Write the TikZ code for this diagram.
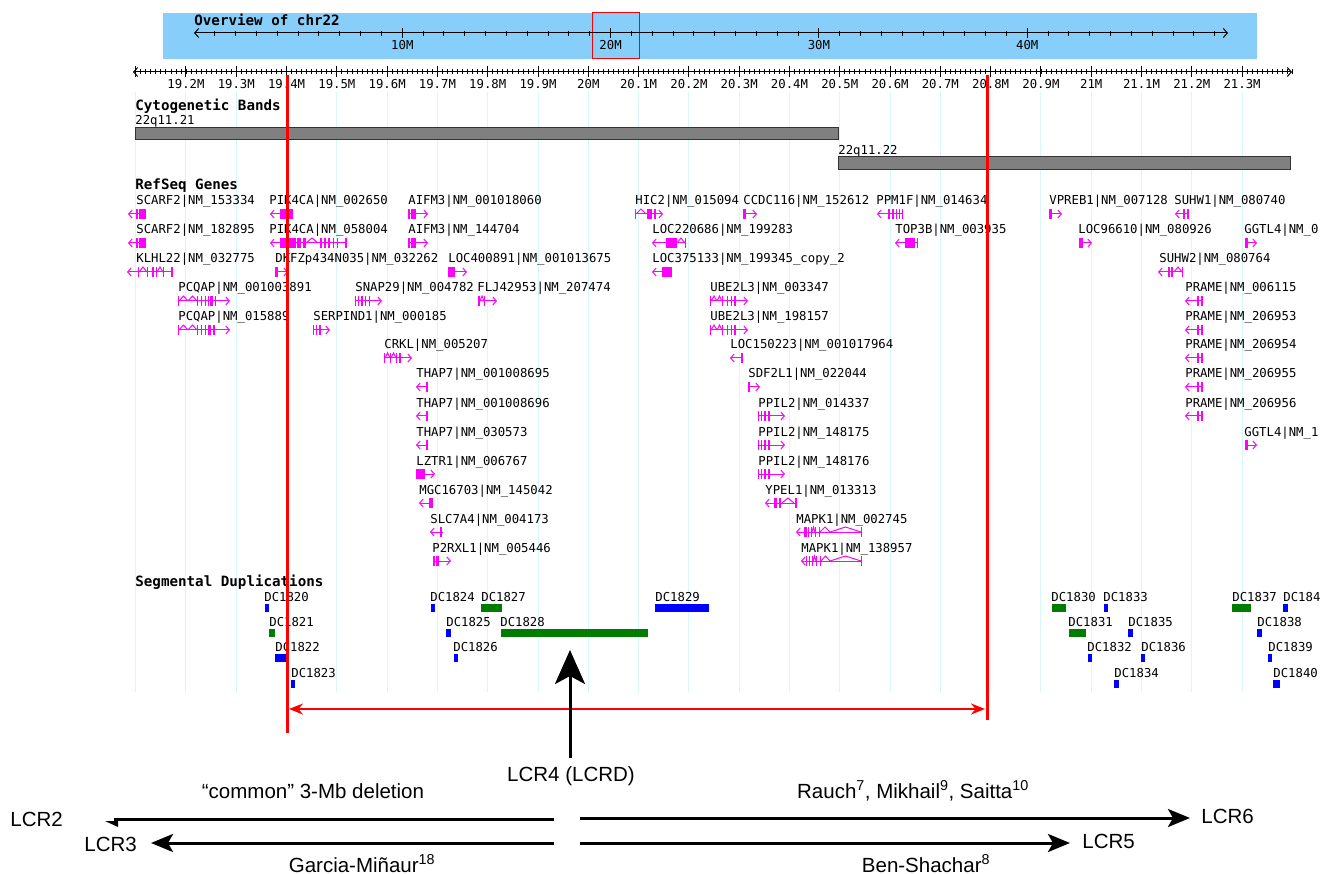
\documentclass[tikz,border=0pt]{standalone}
\usepackage{fontspec}
\setmainfont{Liberation Sans}
\newfontfamily\monofont{DejaVu Sans Mono}
\usetikzlibrary{arrows.meta}

\definecolor{genec}{RGB}{255,0,255}
\definecolor{skyb}{RGB}{135,206,250}
\definecolor{gridc}{RGB}{214,248,250}
\definecolor{dupblue}{RGB}{0,0,255}
\definecolor{dupgreen}{RGB}{0,125,0}
\definecolor{bandgray}{RGB}{128,128,128}
\definecolor{markred}{RGB}{255,0,0}

\tikzset{every picture/.style={line width=0.75pt}}
\tikzset{
  lbl/.style={font=\monofont\fontsize{12.3}{13}\selectfont, anchor=base west, inner sep=0pt},
  ttl/.style={font=\monofont\bfseries\fontsize{14.2}{15}\selectfont, anchor=base west, inner sep=0pt},
  big/.style={font=\fontsize{20.5}{22}\selectfont, anchor=base, inner sep=0pt},
  gline/.style={draw=genec, line width=1pt, -{Straight Barb[length=3.5pt,width=8pt]}},
  band/.style={fill=bandgray, draw=black!80, line width=1pt},
  redl/.style={draw=markred, line width=3pt},
  lcrarrow/.style={line width=3pt, -{Stealth[length=22pt,width=18pt,inset=5pt]}},
  tick/.style={line width=1pt}
}

% gene glyph: y, tail x, head x, exon pairs
\newcommand{\gglyph}[4]{%
  \draw[gline] (#2,#1) -- (#3,#1);
  \foreach \ea/\eb in {#4} {\fill[genec] (\ea,#1-5) rectangle (\eb,#1+5);}
}
% intron chevron: y, from x, to x
\newcommand{\gchev}[3]{\draw[genec, line width=1pt] (#2,#1) -- ({(#2+#3)/2},#1-5) -- (#3,#1);}

\begin{document}
\begin{tikzpicture}[x=1pt,y=1pt,yscale=-1]
  \useasboundingbox (0,0) rectangle (1320,874);
  \fill[white] (0,0) rectangle (1320,874);

  %Grid lines
  \foreach \i in {0,...,22} \draw[gridc, line width=1pt] (135.7+50.29*\i,92) -- (135.7+50.29*\i,692);

  %Overview of chr22
  \fill[skyb] (163,13) rectangle (1257,59);
  \draw[markred, line width=1pt] (592,13) rectangle (639,59);
  \node[ttl] (ovtitle) at (194,26) {Overview of chr22};
  \draw[tick, {Straight Barb[length=4pt,width=9pt]}-{Straight Barb[length=4pt,width=9pt]}] (194,33) -- (1228,33);
  \foreach \m in {1,...,49} \draw[tick] (194+20.83*\m,31) -- ++(0,5);
  \foreach \m in {10,20,30,40} {
    \draw[tick] (194+20.83*\m,28) -- ++(0,10);
    \node[lbl, anchor=base] (ov\m) at (194+20.83*\m,50) {\m M};
  }

  %Ruler
  \draw[tick, {Straight Barb[length=4pt,width=9pt]}-{Straight Barb[length=4pt,width=9pt]}] (133,72) -- (1292,72);
  \foreach \k in {1,...,230} \draw[line width=0.8pt] (135.7+5.029*\k,69.5) -- ++(0,5);
  \foreach \i in {0,...,22} \draw[tick] (135.7+50.29*\i,66) -- ++(0,11);
  \foreach \i/\t in {1/19.2M,2/19.3M,3/19.4M,4/19.5M,5/19.6M,6/19.7M,7/19.8M,8/19.9M,9/20M,10/20.1M,11/20.2M,
    12/20.3M,13/20.4M,14/20.5M,15/20.6M,16/20.7M,17/20.8M,18/20.9M,19/21M,20/21.1M,21/21.2M,22/21.3M}
    \node[lbl, anchor=base] (ru\i) at (135.7+50.29*\i,89) {\t};

  %Cytogenetic bands
  \node[ttl] (cytot) at (135,111) {Cytogenetic Bands};
  \node[lbl] (bandA) at (135,125) {22q11.21};
  \draw[band] (135,128) rectangle (838,140);
  \node[lbl] (bandB) at (838,155) {22q11.22};
  \draw[band] (838,157) rectangle (1290,170);

  %RefSeq genes
  \node[ttl] (genet) at (135,190) {RefSeq Genes};
  \foreach \x/\y/\t [count=\n] in {
    136/201/SCARF2|NM\_153334, 269/201/PIK4CA|NM\_002650, 408/201/AIFM3|NM\_001018060,
    635/201/HIC2|NM\_015094, 743/201/CCDC116|NM\_152612, 876/201/PPM1F|NM\_014634,
    1049/201/VPREB1|NM\_007128, 1174/201/SUHW1|NM\_080740,
    136/230/SCARF2|NM\_182895, 269/230/PIK4CA|NM\_058004, 408/230/AIFM3|NM\_144704,
    652/230/LOC220686|NM\_199283, 895/230/TOP3B|NM\_003935, 1078/230/LOC96610|NM\_080926,
    1244/230/GGTL4|NM\_0,
    136/259/KLHL22|NM\_032775, 275/259/DKFZp434N035|NM\_032262, 448/259/LOC400891|NM\_001013675,
    652/259/LOC375133|NM\_199345\_copy\_2, 1159/259/SUHW2|NM\_080764,
    178/288/PCQAP|NM\_001003891, 355/288/SNAP29|NM\_004782, 477/288/FLJ42953|NM\_207474,
    710/288/UBE2L3|NM\_003347, 1185/288/PRAME|NM\_006115,
    178/317/PCQAP|NM\_015889, 313/317/SERPIND1|NM\_000185, 710/317/UBE2L3|NM\_198157,
    1185/317/PRAME|NM\_206953,
    384/345/CRKL|NM\_005207, 730/345/LOC150223|NM\_001017964, 1185/345/PRAME|NM\_206954,
    416/374/THAP7|NM\_001008695, 748/374/SDF2L1|NM\_022044, 1185/374/PRAME|NM\_206955,
    416/403/THAP7|NM\_001008696, 758/403/PPIL2|NM\_014337, 1185/403/PRAME|NM\_206956,
    416/432/THAP7|NM\_030573, 758/432/PPIL2|NM\_148175, 1244/432/GGTL4|NM\_1,
    416/461/LZTR1|NM\_006767, 758/461/PPIL2|NM\_148176,
    419/490/MGC16703|NM\_145042, 765/490/YPEL1|NM\_013313,
    430/519/SLC7A4|NM\_004173, 796/519/MAPK1|NM\_002745,
    432/548/P2RXL1|NM\_005446, 801/548/MAPK1|NM\_138957}
    \node[lbl] (gene\n) at (\x,\y+4) {\t};

  %Gene glyphs, row 1
  \gglyph{214}{146}{128}{136/138,139/146}
  \gglyph{214}{293}{270}{280/293}
  \gglyph{214}{408}{428}{408/410,411/416}
  \gglyph{214}{635}{663}{635/636,647/652,654/656} \gchev{214}{636}{646}
  \gglyph{214}{743}{757}{743/746}
  \gglyph{214}{903}{877}{888/890,892/894,896/897,899/900,902/903}
  \gglyph{214}{1049}{1062}{1049/1052}
  \gglyph{214}{1189}{1175}{1183/1185,1187/1189}
  %row 2
  \gglyph{243}{146}{128}{136/138,139/146}
  \gglyph{243}{347}{270}{280/296,297/301,303/306,320/322,324/326,328/330,333/334,337/338,345/347} \gchev{243}{306}{318}
  \gglyph{243}{408}{428}{408/410,411/416}
  \gglyph{243}{686}{652}{666/677,685/686} \gchev{243}{677}{685}
  \gglyph{243}{918}{895}{905/915,917/918}
  \gglyph{243}{1079}{1092}{1079/1083}
  \gglyph{243}{1245}{1257}{1245/1248}
  %row 3
  \gglyph{272}{173}{127}{138/139,147/148,152/154,156/157,163/164,171/173} \gchev{272}{139}{147} \gchev{272}{157}{163}
  \gglyph{272}{275}{288}{275/278}
  \gglyph{272}{448}{467}{448/455}
  \gglyph{272}{672}{652}{662/672}
  \gglyph{272}{1183}{1158}{1168/1170,1171/1173,1182/1183} \gchev{272}{1174}{1182}
  %row 4
  \gglyph{301}{178}{230}{178/179,197/198,201/202,205/206,208/209,210/213,215/216} \gchev{301}{179}{188} \gchev{301}{188}{197}
  \gglyph{301}{355}{382}{355/356,358/359,361/363,365/366,369/370}
  \gglyph{301}{478}{497}{478/480,484/485} \gchev{301}{480}{484}
  \gglyph{301}{710}{748}{710/711,722/723,727/728,731/732,734/736} \gchev{301}{711}{717} \gchev{301}{717}{722}
  \gglyph{301}{1203}{1185}{1197/1199,1201/1203}
  %row 5
  \gglyph{330}{178}{230}{178/179,197/198,201/202,205/206,208/211,213/215} \gchev{330}{179}{188} \gchev{330}{188}{197}
  \gglyph{330}{313}{330}{313/314,316/317,319/321}
  \gglyph{330}{710}{748}{710/711,722/723,727/728,731/732,734/736} \gchev{330}{711}{717} \gchev{330}{717}{722}
  \gglyph{330}{1203}{1185}{1197/1199,1201/1203}
  %row 6
  \gglyph{358}{384}{412}{384/385,390/391,396/397,399/401} \gchev{358}{385}{390} \gchev{358}{391}{396}
  \gglyph{358}{743}{730}{741/743}
  \gglyph{358}{1203}{1185}{1197/1199,1201/1203}
  %row 7
  \gglyph{387}{428}{416}{426/428}
  \gglyph{387}{748}{760}{748/750}
  \gglyph{387}{1203}{1185}{1197/1199,1201/1203}
  %row 8
  \gglyph{416}{428}{416}{426/428}
  \gglyph{416}{758}{785}{758/759,761/762,764/766,768/770}
  \gglyph{416}{1203}{1185}{1197/1199,1201/1203}
  %row 9
  \gglyph{445}{428}{416}{426/428}
  \gglyph{445}{758}{785}{758/759,761/762,764/766,768/770}
  \gglyph{445}{1245}{1257}{1245/1248}
  %row 10
  \gglyph{474}{416}{435}{416/425}
  \gglyph{474}{758}{785}{758/759,761/762,764/766,768/770}
  %row 11
  \gglyph{503}{433}{419}{429/433}
  \gglyph{503}{797}{765}{774/777,779/781,795/797} \gchev{503}{782}{794}
  %row 12
  \gglyph{532}{443}{430}{440/442}
  \gglyph{532}{862}{796}{804/807,808/809,811/812,815/816,819/820,861/862} \gchev{532}{812}{815} \gchev{532}{820}{830} \gchev{532}{830}{861}
  %row 13
  \gglyph{561}{433}{451}{433/435,436/439}
  \gglyph{561}{862}{801}{806/807,809/810,812/813,816/817,820/821,861/862} \gchev{561}{813}{816} \gchev{561}{821}{830} \gchev{561}{830}{861}

  %Segmental duplications
  \node[ttl] (dupt) at (135,586) {Segmental Duplications};
  \foreach \x/\y/\a/\b/\c/\t [count=\n] in {
    264/597/265/269/dupblue/DC1820, 430/597/431/435/dupblue/DC1824, 481/597/481/502/dupgreen/DC1827,
    655/597/655/709/dupblue/DC1829, 1051/597/1052/1066/dupgreen/DC1830, 1103/597/1104/1108/dupblue/DC1833,
    1232/597/1232/1251/dupgreen/DC1837, 1283/597/1283/1288/dupblue/DC184,
    269/622/269/275/dupgreen/DC1821, 446/622/446/451/dupblue/DC1825, 500/622/501/648/dupgreen/DC1828,
    1068/622/1069/1086/dupgreen/DC1831, 1128/622/1128/1133/dupblue/DC1835, 1257/622/1257/1262/dupblue/DC1838,
    275/647/275/287/dupblue/DC1822, 453/647/454/458/dupblue/DC1826, 1087/647/1088/1092/dupblue/DC1832,
    1141/647/1141/1145/dupblue/DC1836, 1268/647/1268/1272/dupblue/DC1839,
    291/673/291/295/dupblue/DC1823, 1114/673/1114/1119/dupblue/DC1834, 1273/673/1273/1280/dupblue/DC1840}
  {
    \node[lbl] (dup\n) at (\x,\y+4) {\t};
    \fill[\c] (\a,\y+7) rectangle (\b,\y+15);
  }

  %Deletion interval
  \coordinate (cenL) at (287,75);
  \coordinate (cenLb) at (287,733);
  \coordinate (cenR) at (987,75);
  \coordinate (cenRb) at (987,720);
  \draw[redl] (cenL) -- (cenLb);
  \draw[redl] (cenR) -- (cenRb);
  \coordinate (spanL) at (289,709);
  \coordinate (spanR) at (985,709);
  \draw[markred, line width=2pt, {Stealth[length=14pt,width=11pt]}-{Stealth[length=14pt,width=11pt]}] (spanL) -- (spanR);

  %LCR4 pointer
  \node[big] (lcr4) at (571,781) {LCR4 (LCRD)};
  \coordinate (lcr4top) at (570,758);
  \coordinate (lcr4tip) at (570,650);
  \draw[line width=3pt, -{Stealth[length=34pt,width=30pt,inset=8pt]}] (lcr4top) -- (lcr4tip);

  %Deletion arrows
  \node[big] (common) at (313,798) {“common” 3-Mb deletion};
  \node[big] (rauch) at (913,798) {Rauch\textsuperscript{7}, Mikhail\textsuperscript{9}, Saitta\textsuperscript{10}};
  \node[big] (garcia) at (362,872) {Garcia-Miñaur\textsuperscript{18}};
  \node[big] (benshachar) at (926,872) {Ben-Shachar\textsuperscript{8}};
  \node[big, anchor=base west] (lcr2) at (10,826) {LCR2};
  \node[big, anchor=base west] (lcr3) at (84,851) {LCR3};
  \node[big, anchor=base west] (lcr6) at (1201,823) {LCR6};
  \node[big, anchor=base west] (lcr5) at (1082,848) {LCR5};

  \coordinate (upL0) at (554,819);
  \coordinate (upL1) at (114,819);
  \coordinate (upR0) at (580,818);
  \coordinate (upR1) at (1190,818);
  \coordinate (loL0) at (554,843);
  \coordinate (loL1) at (151,843);
  \coordinate (loR0) at (580,843);
  \coordinate (loR1) at (1070,843);
  \draw[line width=3pt] (upL0) -- (upL1);
  \fill (105,821) -- (118,821) -- (118,827) -- cycle;
  \draw[lcrarrow] (upR0) -- (upR1);
  \draw[lcrarrow] (loL0) -- (loL1);
  \draw[lcrarrow] (loR0) -- (loR1);
\end{tikzpicture}
\end{document}
